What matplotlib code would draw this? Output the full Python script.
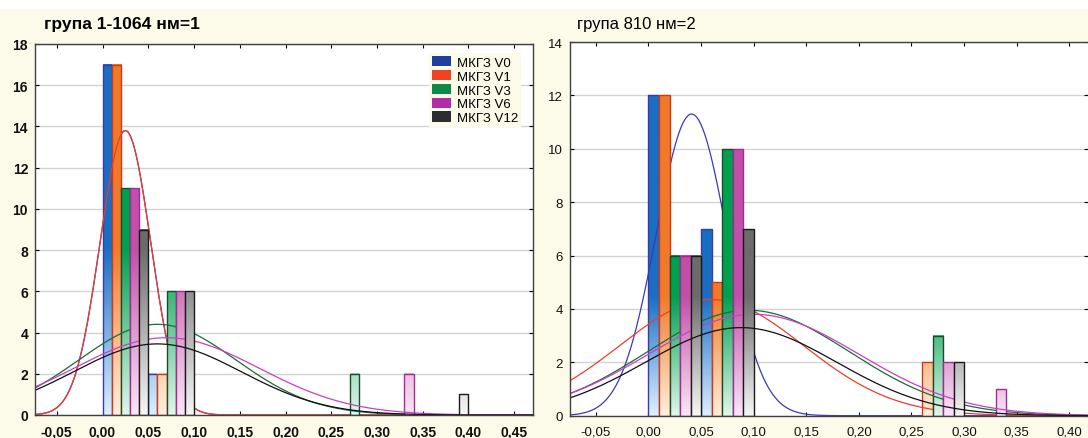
import numpy as np
import matplotlib
matplotlib.use("Agg")
import matplotlib.pyplot as plt
from matplotlib.patches import Rectangle, Patch
from matplotlib.colors import to_rgb

plt.rcParams['font.family'] = ['Liberation Sans', 'DejaVu Sans']

# data
series = ["МКГЗ V0", "МКГЗ V1", "МКГЗ V3", "МКГЗ V6", "МКГЗ V12"]
bin_left = [0.00, 0.05, 0.10, 0.15, 0.20, 0.25, 0.30, 0.35]
bar_w = 0.01

counts_1064 = [
    [17, 2, 0, 0, 0, 0, 0, 0],
    [17, 2, 0, 0, 0, 0, 0, 0],
    [11, 6, 0, 0, 0, 2, 0, 0],
    [11, 6, 0, 0, 0, 0, 2, 0],
    [9, 6, 0, 0, 0, 0, 0, 1],
]
counts_810 = [
    [12, 7, 0, 0, 0, 0, 0, 0],
    [12, 5, 0, 0, 0, 2, 0, 0],
    [6, 10, 0, 0, 0, 3, 0, 0],
    [6, 10, 0, 0, 0, 2, 1, 0],
    [6, 7, 0, 0, 0, 2, 0, 0],
]
# fitted normal curves: peak, mean, sd
fit_1064_peak = [13.8, 13.8, 4.4, 3.75, 3.45]
fit_1064_mean = [0.025, 0.025, 0.060, 0.070, 0.060]
fit_1064_sd = [0.0277, 0.0277, 0.086, 0.101, 0.092]
fit_810_peak = [11.3, 4.35, 3.95, 3.8, 3.3]
fit_810_mean = [0.041, 0.060, 0.095, 0.100, 0.088]
fit_810_sd = [0.0335, 0.087, 0.096, 0.100, 0.091]

xticks_1064 = [-0.05, 0.00, 0.05, 0.10, 0.15, 0.20, 0.25, 0.30, 0.35, 0.40, 0.45]
xticks_810 = [-0.05, 0.00, 0.05, 0.10, 0.15, 0.20, 0.25, 0.30, 0.35, 0.40]

col_full = ["#1a6ec2", "#f07a2a", "#00a050", "#c050a8", "#6c6c6c"]
col_light = ["#dcefff", "#fff0dc", "#e0f6ea", "#fbe6f6", "#f6f6f6"]
col_edge = ["#3a3aa8", "#d03818", "#1a4a2a", "#a02c94", "#1a1a1a"]
col_line = ["#3a3ab8", "#f03c28", "#1e6a3a", "#c840c8", "#101010"]
col_leg = ["#1f3f9f", "#ee4424", "#0a8a48", "#b02ca8", "#2a2e32"]

cream = "#fcfae8"


def fmt(v):
    return f"{v:.2f}".replace(".", ",")


def draw_panel(ax, counts, peak, mean, sd, ymax, xlim, gfrac, bold):
    gmax = gfrac * ymax
    xs = np.linspace(xlim[0], xlim[1], 600)
    for i in range(len(series)):
        zb = 2 + 2 * i
        full = np.array(to_rgb(col_full[i]))
        light = np.array(to_rgb(col_light[i]))
        for j, b in enumerate(bin_left):
            h = counts[i][j]
            if h <= 0:
                continue
            x0 = b + i * bar_w
            yv = np.linspace(0, h, 80)
            f = np.clip(yv / gmax, 0, 1)[:, None]
            rgb = light * (1 - f) + full * f
            ax.imshow(rgb[:, None, :], extent=[x0, x0 + bar_w, 0, h], origin='lower',
                      aspect='auto', zorder=zb, interpolation='bilinear')
            ax.add_patch(Rectangle((x0, 0), bar_w, h, fill=False, edgecolor=col_edge[i],
                                   lw=1.0, zorder=zb + 0.1))
        ys = peak[i] * np.exp(-(xs - mean[i]) ** 2 / (2 * sd[i] ** 2))
        ax.plot(xs, ys, color=col_line[i], lw=0.9, zorder=zb + 1)
    ax.set_xlim(*xlim)
    ax.set_ylim(0, ymax)
    ax.set_yticks(range(0, ymax + 1, 2))
    ax.yaxis.grid(True, color="#d4d4d4", lw=1.0, zorder=0.5)
    ax.set_axisbelow(True)
    ax.tick_params(direction='in', length=3, top=True, right=True, width=0.8)
    ax.tick_params(axis='x', pad=7)
    ax.tick_params(axis='y', pad=5)
    w = 'bold' if bold else 'normal'
    size = 10 if bold else 9.5
    for lab in ax.get_xticklabels() + ax.get_yticklabels():
        lab.set_fontweight(w)
        lab.set_fontsize(size)
        lab.set_color("#111111")
    for s in ax.spines.values():
        s.set_color("#404040")
        s.set_linewidth(1.0)
        s.set_zorder(20)


W, H = 1088, 439
fig = plt.figure(figsize=(W / 100, H / 100), dpi=100, facecolor=cream)
fig.patches.append(Rectangle((0, 1 - 10 / H), 1, 10 / H, transform=fig.transFigure,
                             facecolor="white", edgecolor="none", zorder=0))

ax1 = fig.add_axes([35 / W, (H - 416) / H, (533 - 35) / W, (416 - 45) / H])
ax1.set_xticks(xticks_1064)
ax1.set_xticklabels([fmt(v) for v in xticks_1064])
draw_panel(ax1, counts_1064, fit_1064_peak, fit_1064_mean, fit_1064_sd, 18,
           (-0.0738, 0.4705), 0.45, True)

ax2 = fig.add_axes([570 / W, (H - 416.7) / H, (1088 - 570) / W, (416.7 - 43) / H])
ax2.set_xticks(xticks_810)
ax2.set_xticklabels([fmt(v) for v in xticks_810])
draw_panel(ax2, counts_810, fit_810_peak, fit_810_mean, fit_810_sd, 14,
           (-0.0746, 0.4178), 0.32, False)
ax2.spines['right'].set_visible(False)

handles = [Patch(facecolor=c, edgecolor='none') for c in col_leg]
leg = ax1.legend(handles, series, loc='upper right', bbox_to_anchor=(0.975, 0.975),
                 fontsize=9.5, frameon=True, facecolor=cream, edgecolor='none', framealpha=1,
                 borderpad=0.2, labelspacing=0.08, handlelength=1.5, handleheight=0.85,
                 handletextpad=0.4, borderaxespad=0)
leg.get_frame().set_boxstyle('square', pad=0)
leg.set_zorder(30)

fig.text(44 / W, 1 - 25 / H, "група 1-1064 нм=1", fontsize=12.6, fontweight='bold',
         ha='left', va='center')
fig.text(577 / W, 1 - 25 / H, "група 810 нм=2", fontsize=12, ha='left', va='center')

fig.savefig("out.png", dpi=100, facecolor=cream)
